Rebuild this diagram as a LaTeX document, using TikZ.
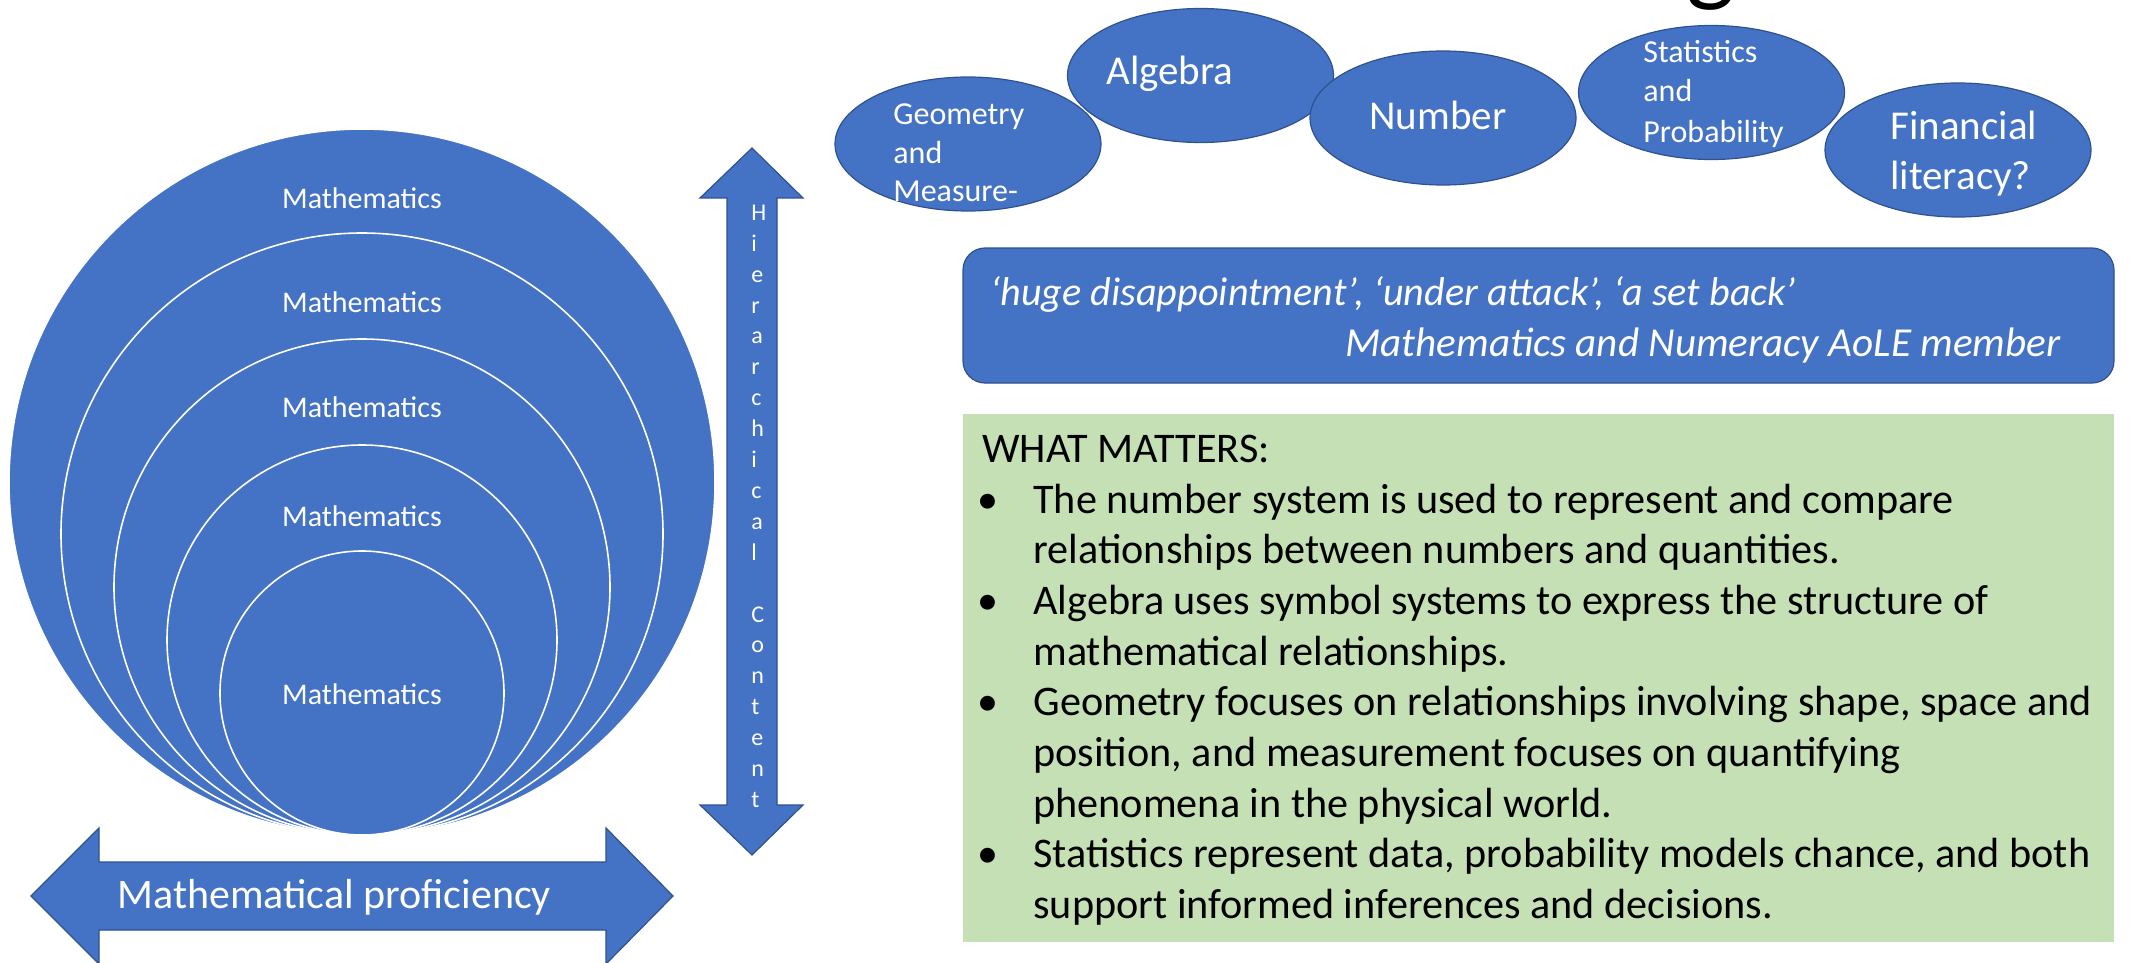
\documentclass[tikz,border=0pt]{standalone}
\usepackage{fontspec}
\setmainfont{Carlito}
\usetikzlibrary{shapes.geometric}
\definecolor{fillblue}{HTML}{4472C4}
\definecolor{lineblue}{HTML}{2F528F}
\definecolor{boxgreen}{HTML}{C5E0B4}
\begin{document}
\begin{tikzpicture}[x=0.5pt,y=-0.5pt,
  ring/.style={circle, draw=white, line width=0.8pt, fill=fillblue, inner sep=0pt},
  mlabel/.style={text=white, font=\fontsize{15}{18}\selectfont, inner sep=0pt, anchor=base},
  topic/.style={ellipse, draw=lineblue, line width=0.6pt, fill=fillblue, inner sep=0pt, minimum width=133pt, minimum height=67pt},
  small/.style={text=white, inner sep=0pt, anchor=base west, font=\fontsize{16}{19}\selectfont},
  large/.style={text=white, inner sep=0pt, anchor=base west, font=\fontsize{20.5}{25}\selectfont},
  bigarrow/.style={fill=fillblue, draw=lineblue, line width=0.6pt, line join=miter},
  gline/.style={inner sep=0pt, anchor=base west, font=\fontsize{21.1}{25}\selectfont, text=black},
  gbullet/.style={inner sep=0pt, anchor=base, font=\fontsize{21}{25}\selectfont, text=black},
  qline/.style={inner sep=0pt, anchor=base west, font=\fontsize{20.1}{24}\selectfont\itshape, text=white},
]
\useasboundingbox (0,0) rectangle (2138,963);

% partial title letter at the top edge
\begin{scope}
\clip (0,0) rectangle (2138,963);
\node[anchor=south, inner sep=0pt, outer sep=0pt, font=\fontsize{52}{60}\selectfont] (title) at (1711,10) {g};
\end{scope}

% nested circles
\node[ring, minimum size=353pt] (c1) at (362,482) {};
\node[ring, minimum size=301pt] (c2) at (362,534) {};
\node[ring, minimum size=248pt] (c3) at (362,587) {};
\node[ring, minimum size=195pt] (c4) at (362,640) {};
\node[ring, minimum size=142pt] (c5) at (362,693) {};
\node[mlabel] (m1) at (362,208) {Mathematics};
\node[mlabel] (m2) at (362,312) {Mathematics};
\node[mlabel] (m3) at (362,417) {Mathematics};
\node[mlabel] (m4) at (362,526) {Mathematics};
\node[mlabel] (m5) at (362,704) {Mathematics};

% vertical double arrow
\draw[bigarrow] (752,148) -- (803,198) -- (777,198) -- (777,805) -- (803,805)
  -- (752,855) -- (700,805) -- (727,805) -- (727,198) -- (700,198) -- cycle;
\node[text=white, inner sep=0pt, anchor=north west, align=left,
  font=\fontsize{12}{15.45}\selectfont] (vt) at (751,204.5)
  {H\\i\\e\\r\\a\\r\\c\\h\\i\\c\\a\\l\\\mbox{}\\C\\o\\n\\t\\e\\n\\t};

% horizontal double arrow
\draw[bigarrow] (31,896) -- (99,828) -- (99,862) -- (606,862) -- (606,828)
  -- (673,896) -- (606,964) -- (606,930) -- (99,930) -- (99,964) -- cycle;
\node[text=white, inner sep=0pt, anchor=base west, font=\fontsize{21}{25}\selectfont]
  (mp) at (117,908) {Mathematical proficiency};

% topic ellipses
\node[topic] (geo) at (968,144) {};
\node[small] (geo1) at (893,125) {Geometry};
\node[small] (geo2) at (893,163) {and};
\node[small] (geo3) at (893,202) {Measure-};
\node[topic] (alg) at (1200.5,75.5) {};
\node[large] (algt) at (1106,85) {Algebra};
\node[topic] (num) at (1443,118) {};
\node[large] (numt) at (1369,130) {Number};
\node[topic] (sta) at (1711.5,92.5) {};
\node[small] (sta1) at (1643,63) {Statistics};
\node[small] (sta2) at (1643,102) {and};
\node[small] (sta3) at (1643,142) {Probability};
\node[topic] (fin) at (1958,150) {};
\node[large] (fin1) at (1890,140) {Financial};
\node[large] (fin2) at (1890,190) {literacy?};

% quote box
\node[draw=lineblue, fill=fillblue, rounded corners=11pt, line width=0.6pt,
  minimum width=575.5pt, minimum height=67.5pt, inner sep=0pt] (quote) at (1538.5,315.5) {};
\node[qline] (q1) at (990,305) {‘huge disappointment’, ‘under attack’, ‘a set back’};
\node[qline, font=\fontsize{20.6}{24}\selectfont\itshape] (q2) at (1345,356) {Mathematics and Numeracy AoLE member};

% what matters box
\node[fill=boxgreen, minimum width=575.5pt, minimum height=264pt, inner sep=0pt] (wm) at (1538.5,678) {};
\node[gline] (w0) at (982,462) {WHAT MATTERS:};
\node[gbullet] (b1) at (988,513) {•};
\node[gline] (w1) at (1033,513) {The number system is used to represent and compare};
\node[gline] (w2) at (1033,563.7) {relationships between numbers and quantities.};
\node[gbullet] (b2) at (988,614.4) {•};
\node[gline] (w3) at (1033,614.4) {Algebra uses symbol systems to express the structure of};
\node[gline] (w4) at (1033,665.1) {mathematical relationships.};
\node[gbullet] (b3) at (988,715.8) {•};
\node[gline] (w5) at (1033,715.8) {Geometry focuses on relationships involving shape, space and};
\node[gline] (w6) at (1033,766.5) {position, and measurement focuses on quantifying};
\node[gline] (w7) at (1033,817.2) {phenomena in the physical world.};
\node[gbullet] (b4) at (988,867.9) {•};
\node[gline] (w8) at (1033,867.9) {Statistics represent data, probability models chance, and both};
\node[gline] (w9) at (1033,918.6) {support informed inferences and decisions.};
\end{tikzpicture}
\end{document}
